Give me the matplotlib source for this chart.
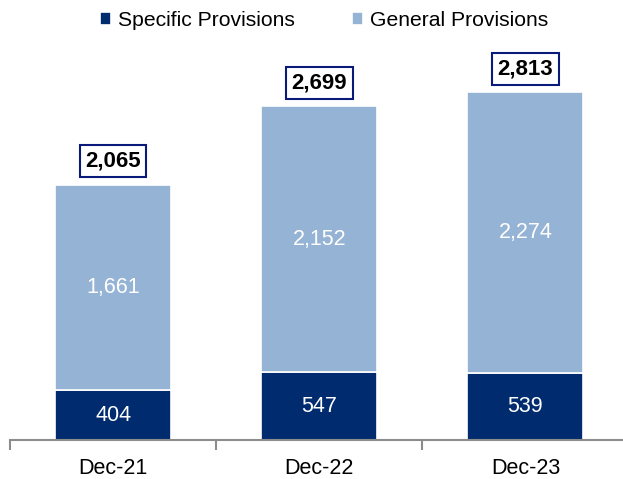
import numpy as np
import matplotlib.pyplot as plt

plt.rcParams['font.family'] = ['Liberation Sans', 'DejaVu Sans']

periods = ['Dec-21', 'Dec-22', 'Dec-23']
specific = [404, 547, 539]
general = [1661, 2152, 2274]
totals = [2065, 2699, 2813]

navy = '#002B6F'
light = '#95B3D4'

fig = plt.figure(figsize=(6.23, 4.79), dpi=100)
ax = fig.add_axes([10 / 623, 39 / 479, 1 - 10 / 623, 440 / 479])

x = np.arange(len(periods))
w = 0.5625

ax.bar(x, specific, w, color=navy, edgecolor='white', linewidth=1.2,
       label='Specific Provisions', zorder=2)
ax.bar(x, general, w, bottom=specific, color=light, edgecolor='white',
       linewidth=1.2, label='General Provisions', zorder=2)

# segment values and boxed totals
for i in range(len(periods)):
    ax.text(x[i], specific[i] / 2, f'{specific[i]:,}', ha='center', va='center',
            color='white', fontsize=15.5)
    ax.text(x[i], specific[i] + general[i] / 2, f'{general[i]:,}', ha='center',
            va='center', color='white', fontsize=15.5)
    ax.annotate(f'{totals[i]:,}', (x[i], totals[i]), xytext=(0, 17),
                textcoords='offset points', ha='center', va='center',
                fontsize=16, fontweight='bold', color='black',
                bbox=dict(boxstyle='square,pad=0.25', facecolor='white',
                          edgecolor='#0A1A7A', linewidth=1.5))

ax.set_xlim(-0.5, 2.473)
ax.set_ylim(0, 3560)

for s in ['top', 'right', 'left']:
    ax.spines[s].set_visible(False)
ax.spines['bottom'].set_color('#8C8C8C')
ax.spines['bottom'].set_linewidth(1.5)
ax.set_yticks([])

ax.set_xticks(x)
ax.set_xticklabels(periods, fontsize=15.5)
ax.tick_params(axis='x', which='major', length=0, pad=13)
ax.set_xticks([-0.5, 0.5, 1.5], minor=True)
ax.tick_params(axis='x', which='minor', length=7, width=1.5, color='#8C8C8C')

ax.legend(loc='upper center', bbox_to_anchor=(0.512, 1.018), ncol=2, frameon=False,
          fontsize=15.2, handlelength=0.55, handleheight=0.55, handletextpad=0.3,
          columnspacing=2.7)

fig.savefig('out.png', dpi=100)
